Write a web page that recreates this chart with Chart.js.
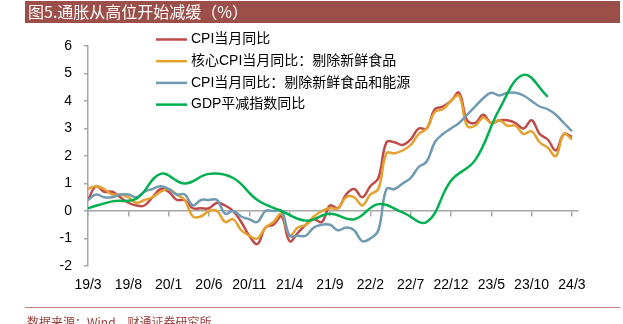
<!DOCTYPE html>
<html>
<head>
<meta charset="utf-8">
<script src="https://cdn.jsdelivr.net/npm/chart.js@4.4.1/dist/chart.umd.min.js"></script>
<style>
  html, body { margin: 0; padding: 0; background: #fff; }
  #wrap { width: 623px; height: 324px; position: relative; }
</style>
</head>
<body>
<div id="wrap"><canvas id="chart"></canvas></div>
<script>
// monthly categories 19/3 .. 24/3
const months = [
  '19/3','19/4','19/5','19/6','19/7','19/8','19/9','19/10','19/11','19/12',
  '20/1','20/2','20/3','20/4','20/5','20/6','20/7','20/8','20/9','20/10','20/11','20/12',
  '21/1','21/2','21/3','21/4','21/5','21/6','21/7','21/8','21/9','21/10','21/11','21/12',
  '22/1','22/2','22/3','22/4','22/5','22/6','22/7','22/8','22/9','22/10','22/11','22/12',
  '23/1','23/2','23/3','23/4','23/5','23/6','23/7','23/8','23/9','23/10','23/11','23/12',
  '24/1','24/2','24/3'
];

const cpi = [
  0.4, 0.9, 0.7, 0.7, 0.5, 0.3, 0.2, 0.2, 0.5, 0.8,
  0.7, 0.4, 0.4, 0.1, 0.1, 0.1, 0.3, 0.2, 0.0, -0.4, -0.9, -1.2,
  -0.6, -0.5, -0.2, -1.1, -0.8, -0.5, -0.3, -0.4, 0.2, 0.1, 0.6, 0.8,
  0.5, 0.9, 1.2, 2.5, 2.5, 2.4, 2.6, 3.0, 3.0, 3.7, 3.8, 4.0,
  4.3, 3.3, 3.2, 3.5, 3.2, 3.3, 3.3, 3.2, 3.0, 3.3, 2.8, 2.6,
  2.2, 2.8, 2.7
];

const coreCpi = [
  0.8, 0.9, 0.8, 0.6, 0.6, 0.5, 0.3, 0.4, 0.5, 0.7,
  0.8, 0.6, 0.4, -0.2, -0.2, 0.0, 0.0, -0.4, -0.3, -0.7, -0.9, -1.0,
  -0.6, -0.4, -0.1, -0.9, -0.6, -0.5, -0.2, 0.0, 0.1, 0.1, 0.5, 0.5,
  0.2, 0.6, 0.8, 2.1, 2.1, 2.2, 2.4, 2.8, 3.0, 3.6, 3.7, 4.0,
  4.2, 3.1, 3.1, 3.4, 3.2, 3.3, 3.1, 3.1, 2.8, 2.9, 2.5, 2.3,
  2.0, 2.8, 2.6
];

const coreCoreCpi = [
  0.4, 0.6, 0.5, 0.5, 0.6, 0.6, 0.5, 0.7, 0.8, 0.9,
  0.8, 0.6, 0.6, 0.2, 0.4, 0.4, 0.4, -0.1, 0.0, -0.2, -0.3, -0.4,
  0.0, 0.0, 0.0, -0.9, -0.9, -0.9, -0.6, -0.5, -0.5, -0.7, -0.6, -0.7,
  -1.1, -1.0, -0.7, 0.8, 0.8, 1.0, 1.2, 1.6, 1.8, 2.5, 2.8, 3.0,
  3.2, 3.5, 3.8, 4.1, 4.3, 4.2, 4.3, 4.3, 4.2, 4.0, 3.8, 3.7,
  3.5, 3.2, 2.9
];

// GDP deflator is quarterly
const gdpMonths = [
  '19/3','19/6','19/9','19/12','20/3','20/6','20/9','20/12',
  '21/3','21/6','21/9','21/12','22/3','22/6','22/9','22/12',
  '23/3','23/6','23/9','23/12'
];
const gdpDeflator = [
  0.1, 0.35, 0.45, 1.35, 1.0, 1.35, 1.2, 0.4,
  0.0, -0.35, -0.1, -0.3, 0.25, -0.05, -0.4, 1.1,
  1.85, 3.7, 4.95, 4.15
];

const seriesNames = ['CPI当月同比', '核心CPI当月同比：剔除新鲜食品', 'CPI当月同比：剔除新鲜食品和能源', 'GDP平减指数同比'];
const seriesColors = ['#BE4B48', '#E6A02E', '#6F9AB1', '#00B050'];
const title = '图5.通胀从高位开始减缓（%）';
const source = '数据来源：Wind，财通证券研究所';

const toPoints = arr => arr.map((v, i) => ({ x: i, y: v }));
const gdpPoints = gdpDeflator.map((v, i) => ({ x: months.indexOf(gdpMonths[i]), y: v }));

const FONT = "'Liberation Sans', 'Noto Sans CJK SC', sans-serif";
Chart.defaults.font.family = FONT;
Chart.defaults.color = '#000';

const frame = {
  id: 'frame',
  beforeDraw(chart) {
    const c = chart.ctx;
    c.save();
    c.fillStyle = '#fff';
    c.fillRect(0, 0, chart.width, chart.height);
    c.fillStyle = '#9C4F48';
    c.fillRect(25, 1, 595, 22);
    c.fillStyle = '#fff';
    c.font = "16px 'Noto Sans CJK SC'";
    c.textBaseline = 'middle';
    c.fillText(title, 28, 12);
    c.strokeStyle = '#C9807B';
    c.lineWidth = 1;
    c.beginPath();
    c.moveTo(25, 307.5);
    c.lineTo(620, 307.5);
    c.stroke();
    c.fillStyle = '#9A3B38';
    c.font = "12px 'Noto Sans CJK SC'";
    c.textBaseline = 'top';
    c.fillText(source, 27, 316);
    c.restore();
  },
  afterDraw(chart) {
    // legend in the upper left of the plot
    const c = chart.ctx;
    c.save();
    c.font = '14px ' + FONT;
    c.textBaseline = 'middle';
    seriesNames.forEach((name, i) => {
      const y = 39.5 + i * 21.7;
      c.strokeStyle = seriesColors[i];
      c.lineWidth = 2.5;
      c.beginPath();
      c.moveTo(156, y);
      c.lineTo(187, y);
      c.stroke();
      c.fillStyle = '#000';
      c.fillText(name, 191, y);
    });
    c.restore();
  }
};

const line = (i, data, order) => ({
  label: seriesNames[i],
  data: data,
  borderColor: seriesColors[i],
  borderWidth: 2.5,
  pointRadius: 0,
  tension: 0.4,
  fill: false,
  spanGaps: true,
  order: order
});

new Chart(document.getElementById('chart'), {
  type: 'line',
  data: {
    datasets: [
      line(0, toPoints(cpi), 4),
      line(1, toPoints(coreCpi), 3),
      line(2, toPoints(coreCoreCpi), 2),
      line(3, gdpPoints, 1)
    ]
  },
  options: {
    responsive: true,
    maintainAspectRatio: false,
    animation: false,
    devicePixelRatio: 1,
    layout: { padding: { left: 60, right: 45, top: 46, bottom: 28 } },
    plugins: { legend: { display: false }, tooltip: { enabled: false } },
    scales: {
      x: {
        type: 'linear',
        position: { y: 0 },
        min: 0,
        max: 60.75,
        border: { display: true, color: '#A6A6A6', width: 1.5 },
        grid: { drawOnChartArea: false, drawTicks: true, tickLength: 5, color: '#A6A6A6', lineWidth: 1.5 },
        ticks: { display: false, stepSize: 5, includeBounds: false }
      },
      x2: {
        type: 'linear',
        position: 'bottom',
        min: 0,
        max: 60.75,
        border: { display: false },
        grid: { display: false },
        ticks: {
          stepSize: 5,
          includeBounds: false,
          autoSkip: false,
          maxRotation: 0,
          padding: 3,
          font: { size: 14 },
          callback: v => months[v]
        },
        afterFit: s => { s.height = 30; }
      },
      y: {
        min: -2,
        max: 6,
        border: { display: true, color: '#A6A6A6', width: 1.5 },
        grid: { drawOnChartArea: false, tickLength: 4, color: '#A6A6A6', lineWidth: 1.5 },
        ticks: { stepSize: 1, padding: 12, font: { size: 14 } },
        afterFit: s => { s.height = s.height; s.width = 28; }
      }
    }
  },
  plugins: [frame]
});
</script>
</body>
</html>
